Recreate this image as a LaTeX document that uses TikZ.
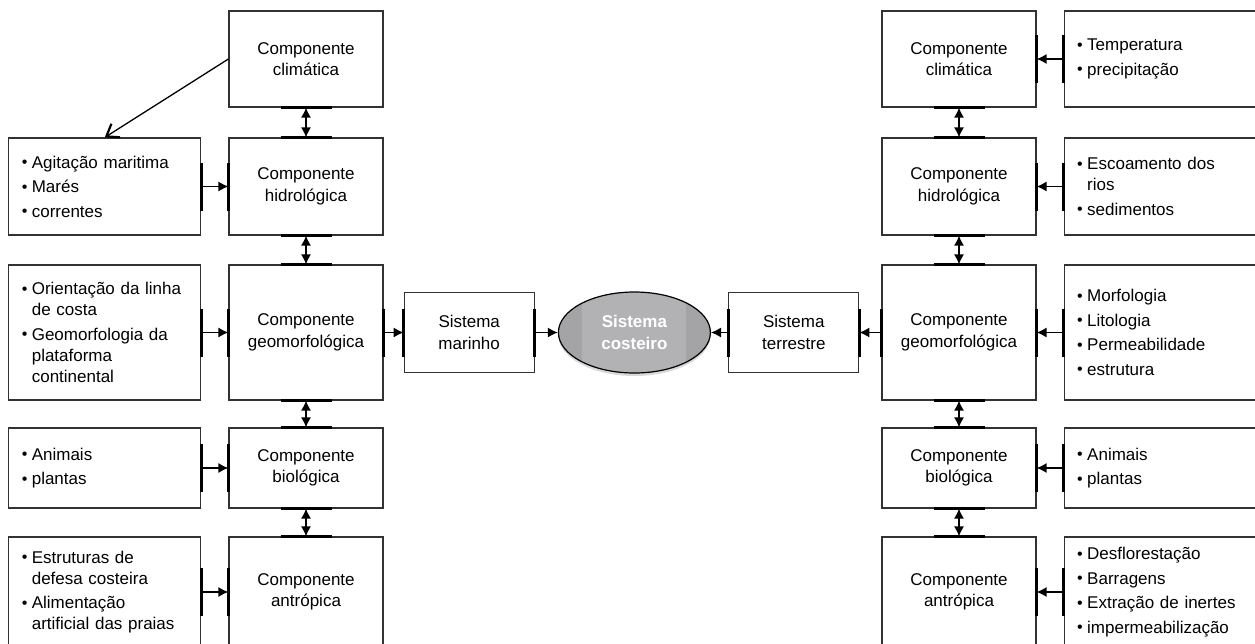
\documentclass[tikz,border=0pt]{standalone}
\usepackage{fontspec}
\setmainfont{Liberation Sans}
\usetikzlibrary{arrows.meta,positioning,shapes.geometric,shadows}
\definecolor{boxline}{RGB}{50,50,50}
\definecolor{costfill}{RGB}{164,164,166}
\definecolor{costmid}{RGB}{178,178,180}
\newcommand\bul{\makebox[10pt][l]{\raisebox{0.5pt}{\fontsize{16}{16}\selectfont\textbullet}}}
\newcommand\hang{\hspace*{10pt}}

\begin{document}
\begin{tikzpicture}[x=1pt,y=-1pt,>={Latex[length=10pt,width=10pt]},
    font=\fontsize{17}{21.5}\selectfont,node distance=27pt,
    comp/.style={draw=boxline,line width=1.2pt,minimum width=154pt,align=center,inner sep=0pt},
    lst/.style={draw=boxline,line width=1.2pt,text width=166pt,inner xsep=13pt,inner ysep=0pt,
      align=left,font=\fontsize{17}{21}\selectfont},
    tabline/.style={line width=3pt,black},
    conn/.style={line width=1.3pt,black}]
  \path[use as bounding box,clip] (0,0) rectangle (1255,643);

  % left column
  \node[comp,minimum height=96pt] (lclim) at (306,59) {Componente\\climática};
  \node[comp,minimum height=97pt] (lhid) at (306,186.5) {Componente\\hidrológica};
  \node[comp,minimum height=135pt] (lgeo) at (306,332.5) {Componente\\geomorfológica};
  \node[comp,minimum height=80pt] (lbio) at (306,468) {Componente\\biológica};
  \node[comp,minimum height=110pt] (lant) at (306,592) {Componente\\antrópica};

  \node[lst,minimum height=97pt,left=of lhid] (lhidl)
    {\bul Agitação maritima\\[3.5pt]\bul Marés\\[3.5pt]\bul correntes};
  \node[lst,minimum height=135pt,left=of lgeo] (lgeol)
    {\bul Orientação da linha\\\hang de costa\\[3.5pt]\bul Geomorfologia da\\\hang plataforma\\\hang continental};
  \node[lst,minimum height=80pt,left=of lbio] (lbiol)
    {\bul Animais\\[3.5pt]\bul plantas};
  \node[lst,minimum height=110pt,left=of lant] (lantl)
    {\bul Estruturas de\\\hang defesa costeira\\[3.5pt]\bul Alimentação\\\hang artificial das praias};

  % right column
  \node[comp,minimum height=96pt] (rclim) at (959,59) {Componente\\climática};
  \node[comp,minimum height=97pt] (rhid) at (959,186.5) {Componente\\hidrológica};
  \node[comp,minimum height=135pt] (rgeo) at (959,332.5) {Componente\\geomorfológica};
  \node[comp,minimum height=80pt] (rbio) at (959,468) {Componente\\biológica};
  \node[comp,minimum height=110pt] (rant) at (959,592) {Componente\\antrópica};

  \node[lst,text width=170pt,minimum height=96pt,right=of rclim] (rcliml)
    {\bul Temperatura\\[3.5pt]\bul precipitação};
  \node[lst,text width=170pt,minimum height=97pt,right=of rhid] (rhidl)
    {\bul Escoamento dos\\\hang rios\\[3.5pt]\bul sedimentos};
  \node[lst,text width=170pt,minimum height=135pt,right=of rgeo] (rgeol)
    {\bul Morfologia\\[3.5pt]\bul Litologia\\[3.5pt]\bul Permeabilidade\\[3.5pt]\bul estrutura};
  \node[lst,text width=170pt,minimum height=80pt,right=of rbio] (rbiol)
    {\bul Animais\\[3.5pt]\bul plantas};
  \node[lst,text width=170pt,minimum height=110pt,right=of rant] (rantl)
    {\bul Desflorestação\\[3.5pt]\bul Barragens\\[3.5pt]\bul Extração de inertes\\[3.5pt]\bul impermeabilização};

  % centre
  \node[comp,minimum width=130pt,minimum height=80pt,right=20pt of lgeo] (marinho) {Sistema\\marinho};
  \node[comp,minimum width=130pt,minimum height=80pt,left=22pt of rgeo] (terrestre) {Sistema\\terrestre};
  \node[ellipse,draw=black,line width=1.2pt,fill=costfill,minimum width=152pt,minimum height=81pt,
    inner sep=0pt,align=center,text=white,font=\bfseries\fontsize{17}{21.5}\selectfont,
    path picture={\fill[costmid] ([xshift=-52pt]path picture bounding box.south)
      rectangle ([xshift=52pt]path picture bounding box.north);},
    drop shadow={opacity=0.3,shadow xshift=0pt,shadow yshift=-3pt},
    right=23pt of marinho] (costeiro) {Sistema\\costeiro};

  % links
  \foreach \s/\t in {lhidl/lhid,lgeol/lgeo,lbiol/lbio,lantl/lant,lgeo/marinho} {
    \draw[tabline] ([yshift=24pt]\s.east) -- ([yshift=-24pt]\s.east);
    \draw[tabline] ([yshift=24pt]\t.west) -- ([yshift=-24pt]\t.west);
    \draw[conn,->] (\s) -- (\t);
  }
  \foreach \s/\t in {rcliml/rclim,rhidl/rhid,rgeol/rgeo,rbiol/rbio,rantl/rant,rgeo/terrestre} {
    \draw[tabline] ([yshift=24pt]\s.west) -- ([yshift=-24pt]\s.west);
    \draw[tabline] ([yshift=24pt]\t.east) -- ([yshift=-24pt]\t.east);
    \draw[conn,->] (\s) -- (\t);
  }
  \draw[tabline] ([yshift=24pt]marinho.east) -- ([yshift=-24pt]marinho.east);
  \draw[conn,->] (marinho) -- (costeiro);
  \draw[tabline] ([yshift=24pt]terrestre.west) -- ([yshift=-24pt]terrestre.west);
  \draw[conn,->] (terrestre) -- (costeiro);

  \foreach \u/\d in {lclim/lhid,lhid/lgeo,lgeo/lbio,lbio/lant,rclim/rhid,rhid/rgeo,rgeo/rbio,rbio/rant} {
    \draw[tabline] ([xshift=-25.5pt]\u.south) -- ([xshift=25.5pt]\u.south);
    \draw[tabline] ([xshift=-25.5pt]\d.north) -- ([xshift=25.5pt]\d.north);
    \draw[conn,<->] (\u) -- (\d);
  }

  \draw[conn,-{Straight Barb[length=11pt,width=16pt,line width=2.2pt]}] (lclim.west) -- (lhidl.north);
\end{tikzpicture}
\end{document}
